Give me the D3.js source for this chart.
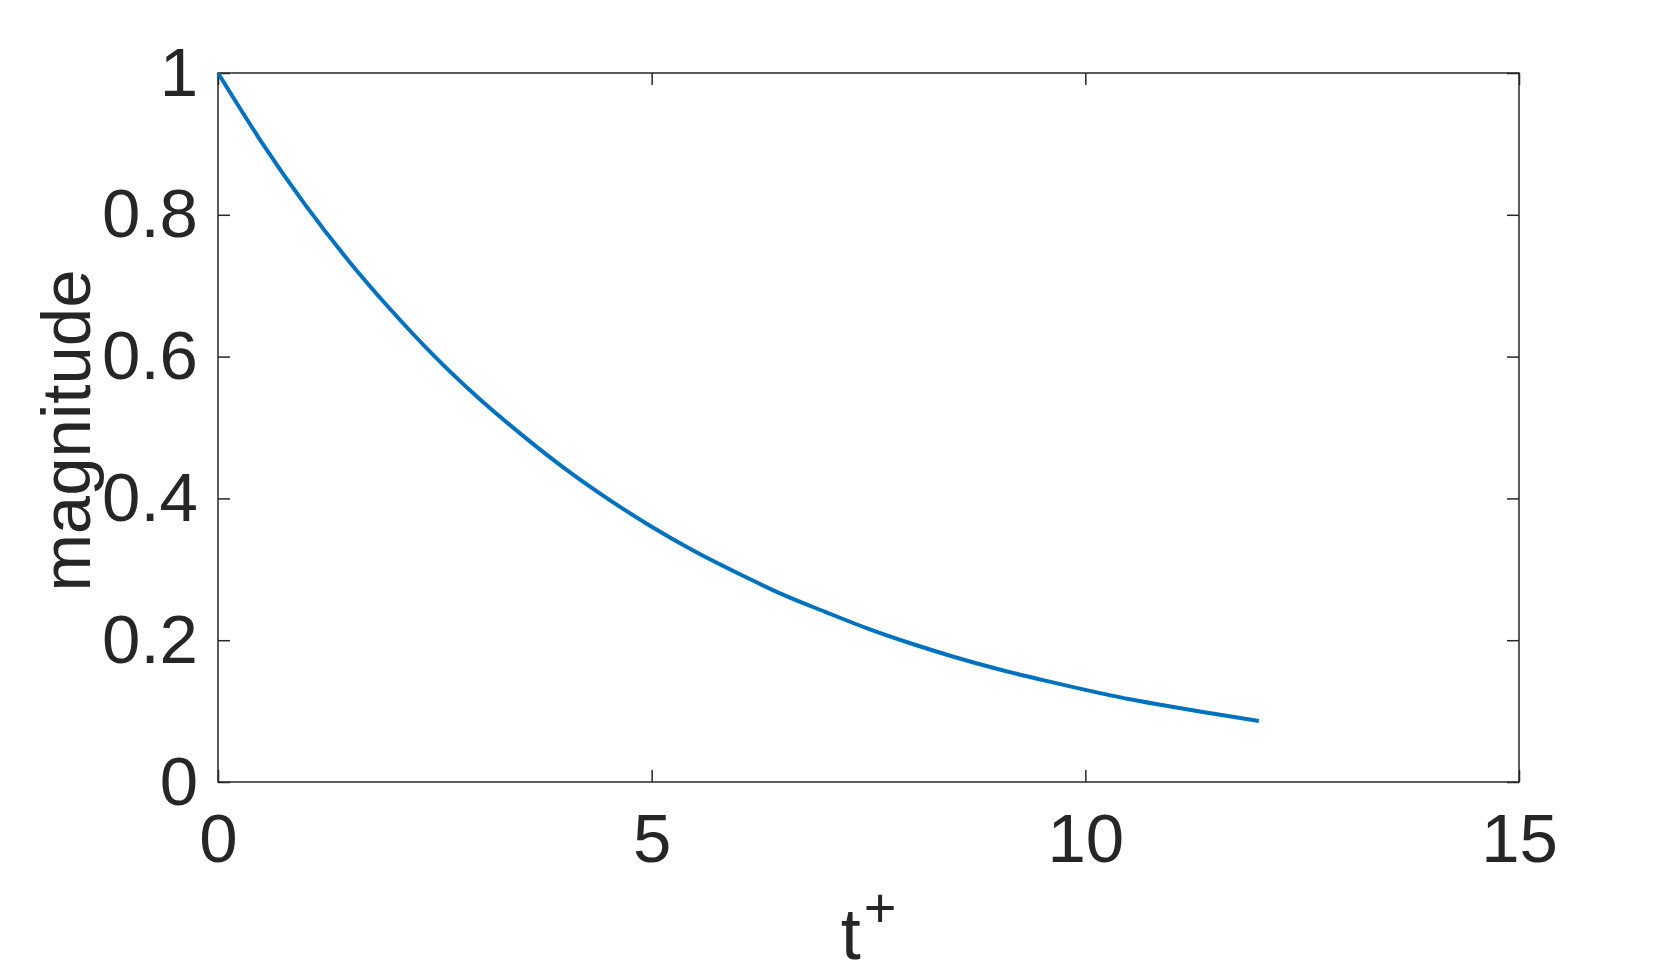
<!DOCTYPE html>
<html>
<head>
<meta charset="utf-8">
<script src="https://cdn.jsdelivr.net/npm/d3@7"></script>
<style>
  html, body { margin: 0; padding: 0; background: #fff; }
  svg { display: block; font-family: "Liberation Sans", Arial, sans-serif; }
</style>
</head>
<body>
<svg id="chart"></svg>
<script>
const width = 1680;
const height = 974;

// values
const tValues = [0, 0.5, 1, 1.5, 2, 2.5, 3, 3.5, 4, 4.5, 5, 5.5, 6, 6.5, 7, 7.5, 8, 8.5, 9, 9.5, 10, 10.5, 11, 11.5, 12];
const magnitude = [1, 0.903, 0.815, 0.736, 0.665, 0.600, 0.542, 0.490, 0.442, 0.399, 0.360, 0.325, 0.294, 0.265, 0.240, 0.216, 0.195, 0.176, 0.159, 0.144, 0.130, 0.117, 0.106, 0.096, 0.086];

const xTicks = [0, 5, 10, 15];
const xTickLabels = ["0", "5", "10", "15"];
const yTicks = [0, 0.2, 0.4, 0.6, 0.8, 1];
const yTickLabels = ["0", "0.2", "0.4", "0.6", "0.8", "1"];

const margin = {top: 73, right: 161, bottom: 192, left: 218};
const ink = "#262626";

const svg = d3.select("#chart")
  .attr("width", width)
  .attr("height", height)
  .attr("viewBox", [0, 0, width, height]);

const x = d3.scaleLinear().domain([0, 15]).range([margin.left, width - margin.right]);
const y = d3.scaleLinear().domain([0, 1]).range([height - margin.bottom, margin.top]);

const data = tValues.map((t, i) => ({t, v: magnitude[i]}));

// axes, ticks pointing inward like matlab
function style(g) {
  g.select(".domain").remove();
  g.selectAll(".tick line").attr("stroke", ink).attr("stroke-width", 1.5);
  g.selectAll(".tick text").attr("fill", ink).attr("font-size", 69);
}

svg.append("g")
  .attr("transform", `translate(0,${y(0)})`)
  .call(d3.axisBottom(x).tickValues(xTicks).tickSize(-12).tickPadding(31)
    .tickFormat((d, i) => xTickLabels[i]))
  .call(style);

svg.append("g")
  .attr("transform", `translate(0,${y(1)})`)
  .call(d3.axisTop(x).tickValues(xTicks).tickSize(-12).tickFormat(""))
  .call(style);

svg.append("g")
  .attr("transform", `translate(${x(0)},0)`)
  .call(d3.axisLeft(y).tickValues(yTicks).tickSize(-12).tickPadding(20)
    .tickFormat((d, i) => yTickLabels[i]))
  .call(style);

svg.append("g")
  .attr("transform", `translate(${x(15)},0)`)
  .call(d3.axisRight(y).tickValues(yTicks).tickSize(-12).tickFormat(""))
  .call(style);

// box
svg.append("rect")
  .attr("x", x(0))
  .attr("y", y(1))
  .attr("width", x(15) - x(0))
  .attr("height", y(0) - y(1))
  .attr("fill", "none")
  .attr("stroke", ink)
  .attr("stroke-width", 1.5);

// curve
const line = d3.line()
  .x(d => x(d.t))
  .y(d => y(d.v))
  .curve(d3.curveMonotoneX);

svg.append("path")
  .datum(data)
  .attr("fill", "none")
  .attr("stroke", "#0072BD")
  .attr("stroke-width", 4)
  .attr("d", line);

// labels
const xl = svg.append("text")
  .attr("x", (x(0) + x(15)) / 2)
  .attr("y", 959)
  .attr("text-anchor", "middle")
  .attr("fill", ink)
  .attr("font-size", 72);
xl.append("tspan").text("t");
xl.append("tspan").attr("font-size", 56).attr("dx", 3).attr("dy", -32).text("+");

svg.append("text")
  .attr("transform", `translate(90,${(y(0) + y(1)) / 2 + 3}) rotate(-90)`)
  .attr("text-anchor", "middle")
  .attr("fill", ink)
  .attr("font-size", 69)
  .text("magnitude");
</script>
</body>
</html>
